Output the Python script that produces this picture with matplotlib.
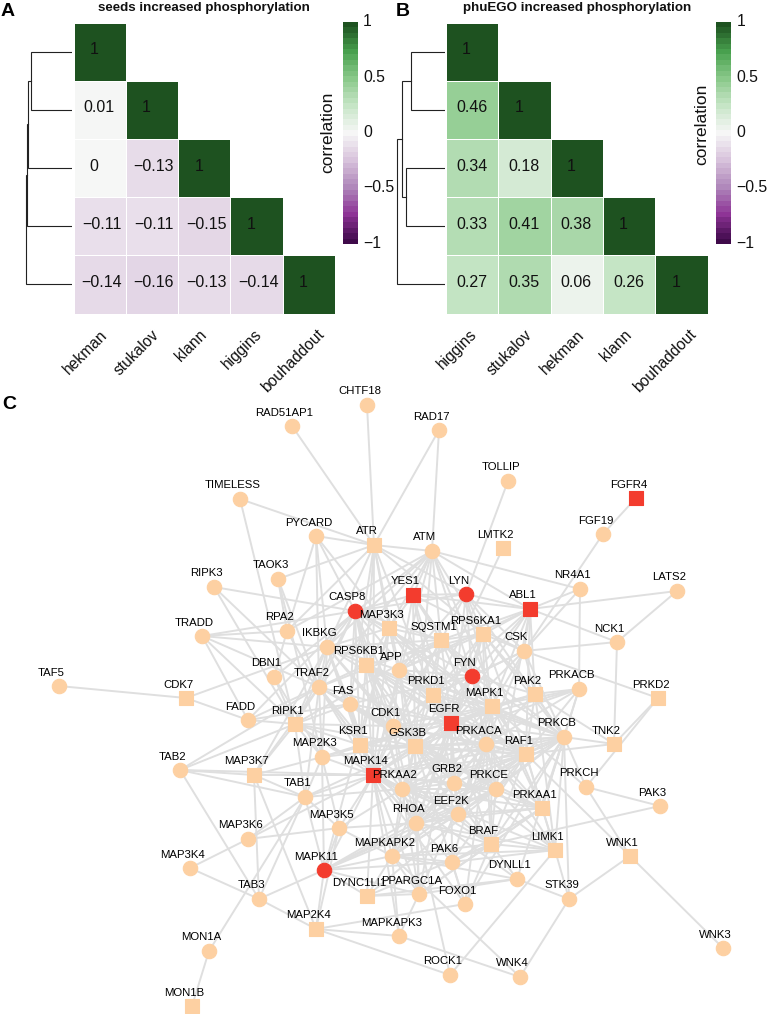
import numpy as np
import matplotlib
matplotlib.use("Agg")
import matplotlib.pyplot as plt
from matplotlib.colors import LinearSegmentedColormap, Normalize
from matplotlib.transforms import ScaledTranslation

plt.rcParams['font.family'] = ['Liberation Sans', 'DejaVu Sans']

W, H = 768, 1014
nan = float('nan')

# ---- heatmap data ----
seeds_labels = ["hekman", "stukalov", "klann", "higgins", "bouhaddout"]
seeds_corr = [[1, nan, nan, nan, nan],
              [0.01, 1, nan, nan, nan],
              [0, -0.13, 1, nan, nan],
              [-0.11, -0.11, -0.15, 1, nan],
              [-0.14, -0.16, -0.13, -0.14, 1]]
phuego_labels = ["higgins", "stukalov", "hekman", "klann", "bouhaddout"]
phuego_corr = [[1, nan, nan, nan, nan],
               [0.46, 1, nan, nan, nan],
               [0.34, 0.18, 1, nan, nan],
               [0.33, 0.41, 0.38, 1, nan],
               [0.27, 0.35, 0.06, 0.26, 1]]

# dendrogram merges: (node a, node b, height); nodes are leaf rows 0-4 or earlier merges 5+
seeds_merges = [(0, 1, 0.84), (5, 2, 0.89), (6, 3, 0.92), (7, 4, 0.94)]
phuego_merges = [(0, 1, 0.70), (2, 3, 0.79), (5, 6, 0.88), (7, 4, 0.98)]

colorbar_ticks = [1, 0.5, 0, -0.5, -1]
colorbar_ticklabels = ["1", "0.5", "0", "\u22120.5", "\u22121"]

cmap = LinearSegmentedColormap.from_list("corr", [
    (0.0, '#3f0a4a'), (0.125, '#8e3496'), (0.25, '#b088bb'), (0.375, '#d8c3dc'),
    (0.5, '#f7f7f7'), (0.625, '#c8e6c8'), (0.75, '#8cca8c'), (0.875, '#4aa350'),
    (1.0, '#1e5220')])

# ---- network data (layout position of each protein) ----
circle_nodes = {
    "CHTF18": (367, 405), "RAD51AP1": (292, 426), "RAD17": (439, 430), "TOLLIP": (508, 481),
    "TIMELESS": (240, 499), "FGF19": (603, 534), "PYCARD": (316, 536), "ATM": (432, 551),
    "NR4A1": (580, 589), "LATS2": (677, 591), "TAOK3": (278, 579), "RIPK3": (214, 587),
    "RPA2": (287, 631), "TRADD": (202, 636), "NCK1": (617, 642), "IKBKG": (327, 647),
    "CSK": (524, 651), "APP": (399, 670), "DBN1": (274, 677), "TRAF2": (319, 687),
    "PRKACB": (579, 689), "TAF5": (59, 686), "FAS": (350, 704), "FADD": (248, 720),
    "CDK1": (393, 726), "PRKCB": (564, 737), "PRKACA": (486, 744), "MAP2K3": (322, 757),
    "TAB2": (180, 770), "GRB2": (454, 783), "PRKCE": (496, 789), "PRKAA2": (402, 789),
    "PRKCH": (586, 787), "TAB1": (305, 797), "PAK3": (660, 806), "EEF2K": (458, 814),
    "RHOA": (416, 823), "MAP3K5": (339, 828), "MAP3K6": (248, 839), "MAPKAPK2": (392, 856),
    "PAK6": (452, 862), "MAP3K4": (190, 868), "DYNLL1": (517, 879), "PPARGC1A": (419, 894),
    "TAB3": (259, 899), "STK39": (569, 899), "FOXO1": (465, 904), "MAPKAPK3": (399, 936),
    "WNK3": (723, 948), "MON1A": (209, 951), "ROCK1": (450, 975), "WNK4": (520, 977),
}
square_nodes = {
    "ATR": (374, 545), "LMTK2": (503, 548), "MAP3K3": (389, 628), "SQSTM1": (441, 640),
    "RPS6KA1": (483, 634), "RPS6KB1": (366, 665), "PRKD1": (433, 695), "PAK2": (535, 694),
    "CDK7": (186, 698), "PRKD2": (658, 698), "MAPK1": (492, 706), "RIPK1": (295, 724),
    "TNK2": (614, 744), "KSR1": (360, 745), "GSK3B": (415, 746), "RAF1": (526, 754),
    "MAP3K7": (254, 775), "PRKAA1": (542, 808), "BRAF": (491, 844), "LIMK1": (555, 850),
    "WNK1": (630, 856), "DYNC1LI1": (367, 896), "MAP2K4": (316, 929), "MON1B": (192, 1006),
}
red_circle_nodes = {"LYN": (466, 594), "CASP8": (355, 611), "FYN": (472, 676), "MAPK11": (324, 870)}
red_square_nodes = {"FGFR4": (636, 498), "YES1": (413, 595), "ABL1": (530, 609),
                    "EGFR": (451, 723), "MAPK14": (373, 775)}

outer_edges = """RAD51AP1-ATR CHTF18-ATR RAD17-ATR RAD17-ATM TIMELESS-ATR TIMELESS-RIPK1 TOLLIP-LYN
FGFR4-FGF19 FGF19-CSK LMTK2-PRKD1 NR4A1-ABL1 NR4A1-ATM NR4A1-PRKACB NR4A1-CSK LATS2-ABL1 LATS2-NCK1
NCK1-ABL1 NCK1-TNK2 NCK1-CSK CSK-PRKD2 PRKD2-TNK2 PRKD2-PRKCH TNK2-PRKCB TNK2-RAF1 TNK2-PAK2
PRKCH-PRKCB PRKCH-PAK3 PRKCH-WNK1 PRKCH-MAPK1 PAK3-BRAF WNK1-WNK3 WNK1-STK39 WNK1-RAF1 PRKCB-STK39
PRKCB-LIMK1 STK39-LIMK1 STK39-DYNLL1 STK39-WNK4 LIMK1-ROCK1 MAP2K4-ROCK1 MAPKAPK3-WNK4 ROCK1-RHOA
MAPKAPK2-WNK4 FOXO1-MAP2K4 FOXO1-PAK6 FOXO1-BRAF DYNLL1-PPARGC1A DYNLL1-MAPKAPK2 DYNLL1-BRAF
TAF5-CDK7 CDK7-FADD CDK7-IKBKG TRADD-RPA2 TRADD-CASP8 TRADD-RIPK1 TRADD-FADD TRADD-TRAF2 TRADD-IKBKG
RIPK3-CASP8 RIPK3-RIPK1 RIPK3-TRAF2 TAOK3-ATR TAOK3-RPA2 TAOK3-MAP2K3 TAOK3-TRAF2
PYCARD-ATR PYCARD-RPA2 PYCARD-CASP8 PYCARD-TRAF2 PYCARD-IKBKG PYCARD-MAP3K3 RPA2-ATR RPA2-ATM RPA2-DBN1
RPA2-TRAF2 DBN1-ATM DBN1-RIPK1 DBN1-MAP2K3 TAB2-MAP3K7 TAB2-TRAF2 TAB2-TAB3 TAB2-TAB1 TAB2-RIPK1
TAB2-MAPK14 MAP3K7-TAB1 MAP3K7-TAB3 MAP3K7-MAP2K4 MAP3K7-MAPK14 MAP3K7-TRAF2 MAP3K7-MAP2K3 MAP3K7-IKBKG
MAP3K7-RIPK1 FADD-CASP8 FADD-RIPK1 FADD-TRAF2 FADD-FAS MAP3K6-MAP3K5 MAP3K6-MAPK14 MAP3K6-TAB1
MAP3K4-TAB3 MAP3K4-MAP3K6 TAB3-MAPK11 TAB3-MAP2K4 TAB3-TAB1 MON1A-TAB1 MON1A-MON1B MAP2K4-MAPK11
MAP2K4-MAPKAPK3 MAP2K4-MAP3K5 DYNC1LI1-MAPK11 DYNC1LI1-MAPK14 DYNC1LI1-PPARGC1A DYNC1LI1-DYNLL1
MAPKAPK3-MAPK14 MAPKAPK3-PPARGC1A MAPK11-MAPKAPK2 MAPK11-PAK6 MAPK11-MAPK14 MAPK11-PRKCE MAPK11-RAF1
MAPK11-MAP3K3 TAB1-MAPK14 TAB1-MAP2K3 TAB1-RIPK1 TAB1-GSK3B TAB1-PRKAA2 TAB1-MAPK11 TAB1-MAP3K5""".split()

hub_edges = """YES1-LYN YES1-ABL1 YES1-CSK YES1-EGFR YES1-FYN YES1-MAPK1 YES1-PRKD1 YES1-MAP3K3 YES1-GSK3B YES1-SQSTM1
YES1-ATM YES1-CASP8 YES1-APP LYN-ABL1 LYN-CSK LYN-FYN LYN-EGFR LYN-SQSTM1 LYN-RPS6KA1 LYN-MAPK1 LYN-APP LYN-PRKCB
LYN-CASP8 LYN-ATR ABL1-RPS6KA1 ABL1-CSK ABL1-FYN ABL1-SQSTM1 ABL1-EGFR ABL1-MAPK1 ABL1-PAK2 ABL1-RAF1 ABL1-PRKD1
ABL1-PRKCE ABL1-ATM ABL1-APP ATM-ATR ATM-MAPK14 ATM-GSK3B ATM-FYN ATM-RPS6KA1 ATM-SQSTM1 ATM-IKBKG ATM-PRKAA1
ATM-MAP3K3 ATM-TRAF2 ATR-MAP3K3 ATR-IKBKG ATR-RPS6KA1 ATR-GSK3B ATR-FAS ATR-MAPK14 ATR-RPS6KB1 ATR-PRKD1
CASP8-RPS6KB1 CASP8-MAP3K3 CASP8-IKBKG CASP8-TRAF2 CASP8-FAS CASP8-RIPK1 CASP8-CDK1 CASP8-SQSTM1 CASP8-EGFR
CASP8-GSK3B CASP8-MAPK1 CASP8-FYN CASP8-KSR1 CASP8-PRKAA2 MAP3K3-IKBKG MAP3K3-RPS6KB1 MAP3K3-SQSTM1 MAP3K3-MAPK1
MAP3K3-MAPK14 MAP3K3-KSR1 MAP3K3-GSK3B MAP3K3-PRKD1 MAP3K3-RAF1 MAP3K3-PRKCE SQSTM1-RPS6KA1 SQSTM1-PRKD1
SQSTM1-MAPK1 SQSTM1-GSK3B SQSTM1-EGFR SQSTM1-FYN SQSTM1-APP SQSTM1-PRKACA SQSTM1-PRKCB SQSTM1-CDK1
SQSTM1-TRAF2 SQSTM1-IKBKG SQSTM1-MAPK14 SQSTM1-RIPK1 RPS6KA1-MAPK1 RPS6KA1-EGFR RPS6KA1-PRKD1 RPS6KA1-PRKCB
RPS6KA1-GSK3B RPS6KA1-PAK2 RPS6KA1-RAF1 RPS6KA1-FYN RPS6KA1-CSK RPS6KA1-PRKACA RPS6KA1-RPS6KB1 RPS6KA1-APP
RPS6KB1-GSK3B RPS6KB1-KSR1 RPS6KB1-MAPK14 RPS6KB1-CDK1 RPS6KB1-PRKD1 RPS6KB1-TRAF2 RPS6KB1-PRKAA2 RPS6KB1-EGFR
RPS6KB1-PRKACA RPS6KB1-PRKCB RPS6KB1-RAF1 RPS6KB1-GRB2 IKBKG-TRAF2 IKBKG-RIPK1 IKBKG-FAS IKBKG-MAPK14 IKBKG-GSK3B
IKBKG-CDK1 IKBKG-KSR1 IKBKG-MAP2K3 IKBKG-EGFR IKBKG-APP IKBKG-RPS6KB1 TRAF2-RIPK1 TRAF2-FAS TRAF2-MAPK14
TRAF2-GSK3B TRAF2-MAP2K3 TRAF2-CDK1 TRAF2-KSR1 TRAF2-TAB1 TRAF2-EGFR TRAF2-PRKAA2 TRAF2-RHOA FAS-RIPK1 FAS-MAPK14
FAS-GSK3B FAS-EGFR FAS-CDK1 FAS-KSR1 FAS-PRKCE FAS-FYN RIPK1-KSR1 RIPK1-MAPK14 RIPK1-MAP2K3 RIPK1-GSK3B
RIPK1-PRKAA2 RIPK1-CDK1 KSR1-MAP2K3 KSR1-MAPK14 KSR1-GSK3B KSR1-MAPK1 KSR1-RAF1 KSR1-BRAF KSR1-EGFR
MAP2K3-MAPK14 MAP2K3-MAP3K5 MAP2K3-GSK3B MAP2K3-MAPK11 MAP2K3-EGFR APP-GSK3B APP-MAPK1 APP-CDK1 APP-EGFR APP-PRKD1
APP-FYN APP-PRKCB APP-MAPK14 APP-PRKACA APP-RHOA FYN-EGFR FYN-MAPK1 FYN-GSK3B FYN-PRKD1 FYN-PRKCB FYN-PRKACA
FYN-RAF1 FYN-PAK2 FYN-CSK FYN-PRKCE FYN-PRKAA2 FYN-RHOA CSK-MAPK1 CSK-EGFR CSK-PAK2 CSK-PRKCB CSK-PRKACA CSK-PRKD1
PAK2-MAPK1 PAK2-PRKACA PAK2-RAF1 PAK2-PRKCB PAK2-EGFR PAK2-PRKACB PAK2-LIMK1 PRKACB-PRKCB PRKACB-RAF1 PRKACB-MAPK1
PRKACB-PRKACA PRKACB-GSK3B PRKACB-EGFR PRKACB-PRKAA1 PRKD1-MAPK1 PRKD1-EGFR PRKD1-GSK3B PRKD1-PRKCB PRKD1-PRKCE
PRKD1-RAF1 PRKD1-PRKACA PRKD1-CDK1 PRKD1-MAPK14 PRKD1-GRB2 MAPK1-EGFR MAPK1-GSK3B MAPK1-PRKACA MAPK1-RAF1 MAPK1-PRKCB
MAPK1-CDK1 MAPK1-MAPK14 MAPK1-GRB2 MAPK1-BRAF MAPK1-PRKAA1 MAPK1-PRKCE MAPK1-EEF2K MAPK1-RHOA MAPK1-PRKAA2
EGFR-GSK3B EGFR-PRKACA EGFR-RAF1 EGFR-PRKCB EGFR-CDK1 EGFR-MAPK14 EGFR-GRB2 EGFR-PRKAA2 EGFR-PRKCE EGFR-RHOA EGFR-BRAF
EGFR-PRKAA1 EGFR-EEF2K EGFR-PAK6 EGFR-MAPKAPK2 EGFR-PPARGC1A CDK1-GSK3B CDK1-MAPK14 CDK1-PRKACA CDK1-PRKAA2 CDK1-RAF1
CDK1-PRKCE CDK1-RHOA GSK3B-PRKACA GSK3B-RAF1 GSK3B-PRKCB GSK3B-MAPK14 GSK3B-GRB2 GSK3B-PRKAA2 GSK3B-PRKCE GSK3B-RHOA
GSK3B-BRAF GSK3B-PRKAA1 GSK3B-EEF2K GSK3B-PPARGC1A GSK3B-FOXO1 GSK3B-MAPKAPK2 GSK3B-LIMK1 PRKACA-RAF1 PRKACA-PRKCB
PRKACA-MAPK14 PRKACA-GRB2 PRKACA-PRKAA2 PRKACA-PRKCE PRKACA-RHOA PRKACA-BRAF PRKACA-PRKAA1 PRKACA-LIMK1 PRKACA-EEF2K
PRKACA-PAK6 PRKACA-FOXO1 PRKACA-PPARGC1A RAF1-PRKCB RAF1-MAPK14 RAF1-GRB2 RAF1-PRKCE RAF1-BRAF RAF1-PRKAA1 RAF1-RHOA
RAF1-PRKAA2 RAF1-LIMK1 RAF1-PAK6 RAF1-MAPKAPK2 PRKCB-MAPK14 PRKCB-GRB2 PRKCB-PRKCE PRKCB-BRAF PRKCB-PRKAA1 PRKCB-RHOA
PRKCB-PRKAA2 PRKCB-EEF2K PRKCB-FOXO1 PRKCB-DYNLL1 MAPK14-GRB2 MAPK14-PRKAA2 MAPK14-RHOA MAPK14-MAPKAPK2 MAPK14-EEF2K
MAPK14-PPARGC1A MAPK14-PRKCE MAPK14-BRAF MAPK14-MAP3K5 MAPK14-PAK6 MAPK14-FOXO1 MAPK14-DYNLL1 MAPK14-LIMK1 PRKAA2-GRB2
PRKAA2-RHOA PRKAA2-MAPKAPK2 PRKAA2-PPARGC1A PRKAA2-PRKCE PRKAA2-EEF2K PRKAA2-PRKAA1 PRKAA2-MAP3K5 GRB2-RHOA GRB2-PRKCE
GRB2-EEF2K GRB2-BRAF GRB2-PRKAA1 GRB2-MAPKAPK2 PRKCE-RHOA PRKCE-BRAF PRKCE-EEF2K PRKCE-PRKAA1 PRKCE-LIMK1 PRKCE-MAPKAPK2
PRKCE-DYNC1LI1 RHOA-MAPKAPK2 RHOA-EEF2K RHOA-BRAF RHOA-PRKAA1 RHOA-LIMK1 RHOA-PPARGC1A RHOA-MAP3K5 RHOA-MAPK11 EEF2K-BRAF
EEF2K-PRKAA1 EEF2K-MAPKAPK2 EEF2K-MAPK11 PRKAA1-BRAF PRKAA1-LIMK1 PRKAA1-PAK6 PRKAA1-PPARGC1A BRAF-LIMK1 BRAF-PAK6
BRAF-MAPKAPK2 BRAF-DYNC1LI1 BRAF-PPARGC1A PAK6-MAPKAPK2 PAK6-LIMK1 MAPKAPK2-PPARGC1A MAPKAPK2-LIMK1 MAPKAPK2-DYNC1LI1
MAPKAPK2-MAPKAPK3 PPARGC1A-MAPK11 MAP3K5-MAPK11 MAP3K5-MAPKAPK2""".split()


def px_axes(x0, y0, x1, y1):
    """Axes covering a pixel box given from the top-left corner of the figure."""
    return fig.add_axes([x0 / W, 1 - y1 / H, (x1 - x0) / W, (y1 - y0) / H])


def shift(dx, dy):
    return ScaledTranslation(dx / 100, -dy / 100, fig.dpi_scale_trans)


fig = plt.figure(figsize=(W / 100, H / 100), dpi=100)
norm = Normalize(-1, 1)
text_offset = {1: -5.5, 4: -0.5, 5: 2}


def fmt(v):
    s = f"{v:.2f}".rstrip('0').rstrip('.') if v not in (0, 1) else str(int(v))
    return s.replace('-', '\u2212')


def heatmap(corr, labels, box):
    ax = px_axes(*box)
    data = np.ma.masked_invalid(np.array(corr, dtype=float))
    ax.pcolormesh(np.arange(6), np.arange(6), data, cmap=cmap, norm=norm,
                  edgecolors='white', linewidth=0.6)
    ax.set_xlim(0, 5)
    ax.set_ylim(5, 0)
    ax.axis('off')
    base = ax.transData
    for r in range(5):
        for c in range(r + 1):
            s = fmt(corr[r][c])
            ax.text(c + 0.5, r + 0.5, s, ha='center', va='center', fontsize=11.5, color='#111111',
                    transform=base + shift(text_offset[len(s)], -2))
    for c, lab in enumerate(labels):
        ax.text(c + 0.5, 5, lab, ha='center', va='top', rotation=45,
                fontsize=11.2, color='#111111', clip_on=False,
                transform=base + shift(-10.5 - 0.6 * len(lab), 13.5))
    return ax


def dendrogram(merges, box, xlim):
    ax = px_axes(*box)
    ax.set_xlim(*xlim)
    ax.set_ylim(5, 0)
    ax.axis('off')
    pos = {i: (0.0, i + 0.5) for i in range(5)}
    for k, (a, b, h) in enumerate(merges):
        xa, ya = pos[a]
        xb, yb = pos[b]
        ax.plot([xa, h, h, xb], [ya, ya, yb, yb], color='#222222', lw=0.8, solid_joinstyle='miter')
        pos[5 + k] = (h, (ya + yb) / 2)


def colorbar(box, label, label_xy):
    ax = px_axes(*box)
    levels = np.linspace(-1, 1, 41)
    ax.imshow(levels[::-1].reshape(-1, 1), cmap=cmap, norm=norm, aspect='auto',
              extent=(0, 1, -1, 1), interpolation='nearest')
    ax.set_xticks([])
    ax.yaxis.tick_right()
    ax.set_yticks(colorbar_ticks, colorbar_ticklabels)
    ax.tick_params(axis='y', length=0, pad=4, labelsize=11.3, labelcolor='#111111')
    for t in ax.get_yticklabels():
        t.set_transform(t.get_transform() + shift(0, -2))
    for s in ax.spines.values():
        s.set_visible(False)
    fig.text(label_xy[0] / W, 1 - label_xy[1] / H, label, rotation=90, ha='center', va='center',
             fontsize=12.5, color='#111111')


heatmap(seeds_corr, seeds_labels, (73.5, 22.5, 335, 313.5))
heatmap(phuego_corr, phuego_labels, (446, 22.5, 707.5, 313.5))
dendrogram(seeds_merges, (23, 22.5, 72, 313.5), (1.0, 0.0))
dendrogram(phuego_merges, (396, 22.5, 445, 313.5), (1.0, 0.0))
colorbar((343, 22, 357.5, 244), "correlation", (328, 132))
colorbar((716, 22, 731, 244), "correlation", (702, 124))

for txt, x, y in [("seeds increased phosphorylation", 204, 8), ("phuEGO increased phosphorylation", 577, 8)]:
    fig.text(x / W, 1 - y / H, txt, ha='center', va='center', fontsize=9.65, fontweight='bold', color='#111111')
for txt, x, y in [("A", 1, 11), ("B", 396, 11), ("C", 2, 405)]:
    fig.text(x / W, 1 - y / H, txt, ha='left', va='center', fontsize=14, fontweight='bold', color='black')

# ---- network ----
net = fig.add_axes([0, 0, 1, 1], zorder=-1)
net.set_xlim(0, W)
net.set_ylim(H, 0)
net.axis('off')
net.patch.set_alpha(0)

positions = {**circle_nodes, **square_nodes, **red_circle_nodes, **red_square_nodes}
for e in outer_edges + hub_edges:
    a, b = e.split('-')
    net.plot([positions[a][0], positions[b][0]], [positions[a][1], positions[b][1]],
             color='#dfdfdf', lw=1.4, zorder=1, solid_capstyle='round')

PEACH, RED = '#fdd0a2', '#f33c2e'
for nodes, marker, colour, size in [(circle_nodes, 'o', PEACH, 108), (square_nodes, 's', PEACH, 92),
                                    (red_circle_nodes, 'o', RED, 108), (red_square_nodes, 's', RED, 92)]:
    xy = np.array(list(nodes.values()))
    net.scatter(xy[:, 0], xy[:, 1], s=size, marker=marker, c=colour, edgecolors=colour,
                linewidths=0.8, zorder=2, joinstyle='round')

for name, (x, y) in positions.items():
    net.text(x, y, name, ha='center', va='center', fontsize=8.2, color='#000000', zorder=3,
             transform=net.transData + shift(-7.5, -13.5))

fig.savefig("out.png", dpi=100, facecolor='white')
